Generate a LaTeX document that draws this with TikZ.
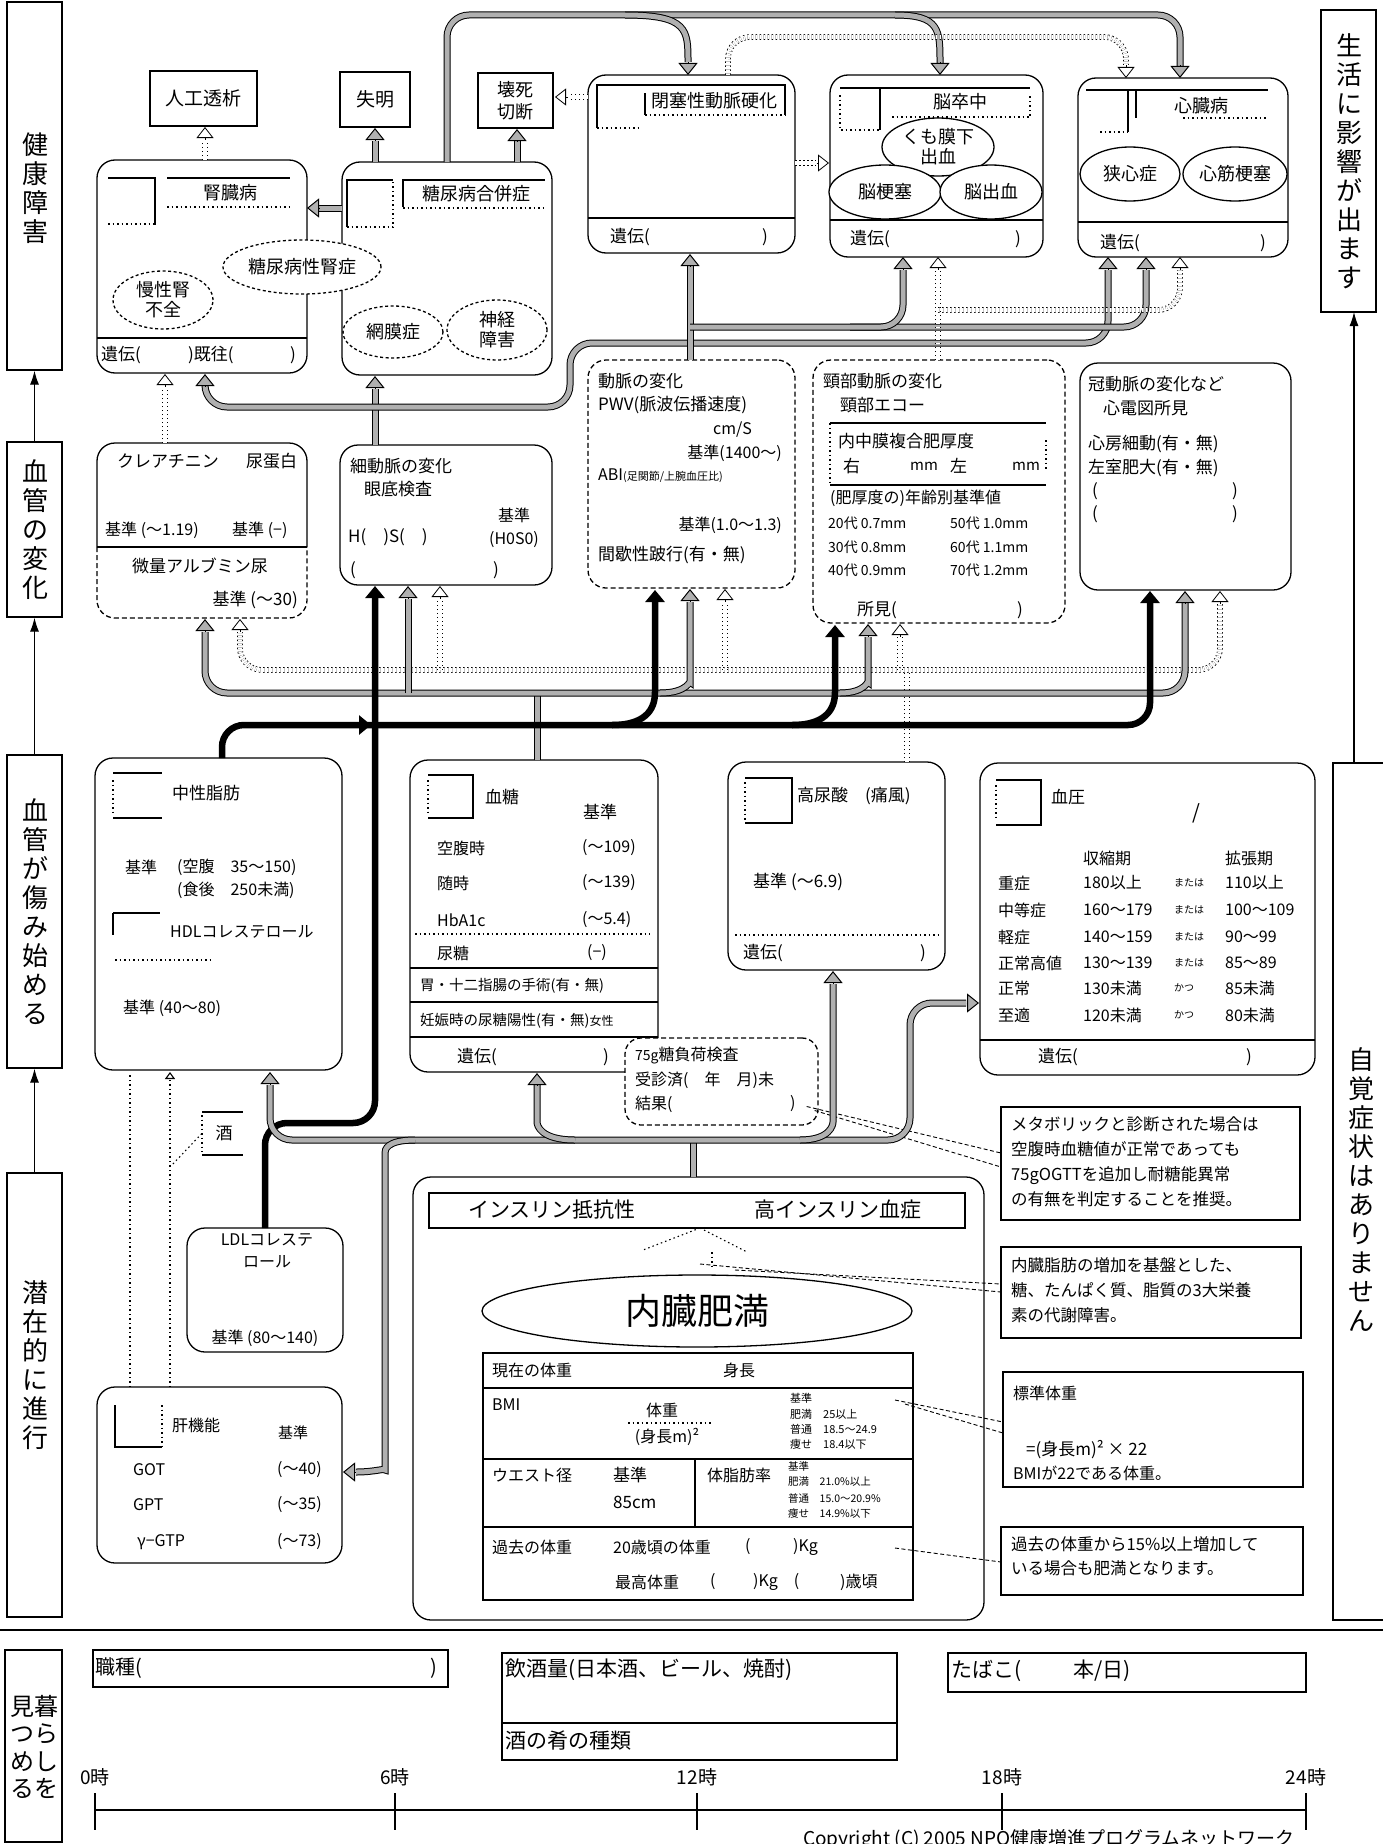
\documentclass[tikz,border=0pt]{standalone}
\usepackage{fontspec}
\setmainfont{Noto Sans CJK JP}
\usetikzlibrary{arrows.meta,shapes.geometric}
\newcommand\myfs[1]{\fontsize{#1}{#1}\selectfont}
\newcommand\boxat[6]{\node[#1, minimum width={#5-#3}, minimum height={#6-#4}] (#2) at ({(#3+#5)/2},{(#4+#6)/2}) {};}
\newcommand\tipU[3]{\draw[#1] (#2,#3+12.5) -- (#2,#3);}
\newcommand\tipD[3]{\draw[#1] (#2,#3-12.5) -- (#2,#3);}
\newcommand\tipL[3]{\draw[#1] (#2+12.5,#3) -- (#2,#3);}
\newcommand\tipR[3]{\draw[#1] (#2-12.5,#3) -- (#2,#3);}
\begin{document}
\begin{tikzpicture}[x=1pt,y=-1pt,
  box/.style={draw,line width=1.3pt,rounded corners=18pt,inner sep=0pt},
  dbox/.style={box,dash pattern=on 5pt off 3pt},
  rbox/.style={draw,line width=1.3pt,inner sep=0pt},
  tbox/.style={draw,line width=2.2pt,inner sep=0pt},
  nbox/.style={draw,line width=1.1pt,inner sep=0pt},
  tx/.style={inner sep=0pt,anchor=west,font=\myfs{17}},
  te/.style={inner sep=0pt,anchor=east,font=\myfs{17}},
  tc/.style={inner sep=0pt,font=\myfs{17}},
  vt/.style={inner sep=0pt,align=center,font=\fontsize{26}{29}\selectfont},
  ell/.style={ellipse,draw,line width=1.3pt,inner sep=0pt,fill=white,align=center,font=\fontsize{18}{20}\selectfont},
  dell/.style={ell,dash pattern=on 3pt off 2.5pt},
  thinl/.style={line width=1.1pt},
  dotl/.style={line width=1.1pt,dash pattern=on 1.5pt off 3pt},
  nline/.style={line width=0.9pt,dash pattern=on 4pt off 2.5pt},
  blk/.style={line width=6.5pt,rounded corners=22pt},
  hat/.style={draw=black,line width=1pt,double=gray!62,double distance=5pt,rounded corners=22pt},
  dtb/.style={draw=black,line width=0.8pt,double=white,double distance=4pt,dash pattern=on 1.5pt off 2.5pt,rounded corners=22pt},
  tipB/.style={line width=0.9pt,-{Triangle[width=19pt,length=12pt]}},
  tipH/.style={line width=1pt,-{Triangle[width=19pt,length=12pt,fill=gray!62]}},
  tipD/.style={line width=0.8pt,-{Triangle[width=17pt,length=11pt,open]}},
  BT/.style={-{Triangle[width=19pt,length=12pt]}},
]
\useasboundingbox (0,0) rectangle (1383,1844);
\fill[white] (0,0) rectangle (1383,1844);

% ---------- left / right stage labels ----------
\boxat{rbox}{s1}{7}{2}{62}{370}
\node[vt] (s1t) at (35,188) {健\\康\\障\\害};
\boxat{rbox}{s2}{7}{442}{62}{617}
\node[vt] (s2t) at (35,530) {血\\管\\の\\変\\化};
\boxat{rbox}{s3}{7}{755}{62}{1068}
\node[vt] (s3t) at (35,912) {血\\管\\が\\傷\\み\\始\\め\\る};
\boxat{rbox}{s4}{7}{1173}{62}{1617}
\node[vt] (s4t) at (35,1365) {潜\\在\\的\\に\\進\\行};
\boxat{rbox}{s5}{5}{1650}{62}{1842}
\node[inner sep=0pt,align=center,font=\fontsize{24}{27.5}\selectfont] (s5t) at (34,1747) {見暮\\つら\\めし\\るを};
\draw[thinl,-{Latex[length=14pt,width=9pt]}] (s2.north) -- (s1.south);
\draw[thinl,-{Latex[length=14pt,width=9pt]}] (s3.north) -- (s2.south);
\draw[thinl,-{Latex[length=14pt,width=9pt]}] (s4.north) -- (s3.south);
\boxat{rbox}{r1}{1321}{10}{1376}{312}
\node[vt] (r1t) at (1349,161) {生\\活\\に\\影\\響\\が\\出\\ま\\す};
\boxat{rbox}{r2}{1333}{763}{1400}{1620}
\node[vt] (r2t) at (1361,1190) {自\\覚\\症\\状\\は\\あ\\り\\ま\\せ\\ん};
\coordinate (r2top) at (1354,763);
\coordinate (r1bot) at (1354,312);
\draw[thinl,-{Latex[length=14pt,width=9pt]}] (r2top) -- (r1bot);
\draw[line width=1.3pt] (0,1630) -- (1383,1630);

% ---------- top outcome boxes ----------
\boxat{rbox}{jinko}{150}{71}{257}{126}
\node[tc,font=\myfs{19}] (jinkot) at (jinko) {人工透析};
\boxat{rbox}{shitsu}{340}{72}{410}{127}
\node[tc,font=\myfs{19}] (shitsut) at (shitsu) {失明};
\boxat{tbox}{eshi}{478}{73}{553}{128}
\node[tc,align=center,font=\fontsize{18}{22}\selectfont] (eshit) at (eshi) {壊死\\切断};

% ---------- disease boxes ----------
\boxat{box}{jinzo}{97}{160}{307}{373}
\draw[thinl] (97,338) -- (307,338);
\draw[thinl] (108,178) -- (155,178) -- (155,225);
\draw[dotl] (108,224) -- (155,224);
\draw[thinl] (167,178) -- (290,178);
\draw[dotl] (167,207) -- (290,207);
\node[tc,font=\myfs{18}] (jzt) at (230,193) {腎臓病};
\node[tx] (jz1) at (101,355) {遺伝(};
\node[tx] (jz2) at (188,355) {)既往(};
\node[tx] (jz3) at (290,355) {)};

\boxat{box}{togai}{342}{162}{552}{375}
\draw[thinl] (347,227) -- (347,180) -- (393,180);
\draw[dotl] (347,227) -- (393,227) -- (393,180);
\draw[thinl] (403,207) -- (403,180) -- (545,180);
\draw[dotl] (403,208) -- (545,208);
\node[tc,font=\myfs{18}] (tgt) at (476,194) {糖尿病合併症};
\node[dell,minimum width=100pt,minimum height=52pt] (moumaku) at (393,332) {網膜症};
\node[dell,minimum width=100pt,minimum height=60pt] (shinkei) at (497,330) {神経\\障害};
\node[dell,minimum width=158pt,minimum height=54pt] (tjinsho) at (302,267) {糖尿病性腎症};
\node[dell,minimum width=100pt,minimum height=58pt] (manjin) at (163,300) {慢性腎\\不全};

\boxat{box}{heisoku}{588}{75}{795}{253}
\draw[thinl] (588,218) -- (795,218);
\draw[thinl] (597,128) -- (597,85) -- (785,85) -- (785,115);
\draw[dotl] (597,128) -- (640,128);
\draw[thinl] (645,93) -- (645,115);
\draw[dotl] (645,115) -- (785,115);
\node[tc,font=\myfs{18}] (hst) at (714,101) {閉塞性動脈硬化};
\node[tx] (hs1) at (610,237) {遺伝(};
\node[tx] (hs2) at (762,237) {)};

\boxat{box}{nosot}{830}{75}{1043}{257}
\draw[thinl] (830,220) -- (1043,220);
\draw[thinl] (840,88) -- (1030,88);
\draw[thinl] (880,88) -- (880,130);
\draw[dotl] (840,95) -- (840,130) -- (880,130);
\draw[dotl] (892,117) -- (1030,117) -- (1030,95);
\node[tc,font=\myfs{18}] (nst) at (960,102) {脳卒中};
\node[ell,minimum width=112pt,minimum height=58pt] (kumo) at (938,147) {くも膜下\\出血};
\node[ell,minimum width=112pt,minimum height=54pt] (nokou) at (885,192) {脳梗塞};
\node[ell,minimum width=102pt,minimum height=54pt] (noshu) at (991,192) {脳出血};
\node[tx] (ns1) at (850,239) {遺伝(};
\node[tx] (ns2) at (1015,239) {)};

\boxat{box}{shinzo}{1078}{78}{1288}{257}
\draw[thinl] (1078,222) -- (1288,222);
\draw[thinl] (1086,90) -- (1268,90);
\draw[thinl] (1128,90) -- (1128,132);
\draw[thinl] (1136,90) -- (1136,118);
\draw[dotl] (1100,132) -- (1128,132);
\draw[dotl] (1183,118) -- (1268,118);
\node[tc,font=\myfs{18}] (szt) at (1201,106) {心臓病};
\node[ell,minimum width=100pt,minimum height=54pt] (kyoshin) at (1130,174) {狭心症};
\node[ell,minimum width=104pt,minimum height=54pt] (shinkin) at (1235,174) {心筋梗塞};
\node[tx] (sz1) at (1100,243) {遺伝(};
\node[tx] (sz2) at (1260,243) {)};

% ---------- vessel change boxes ----------
\node[inner sep=0pt,minimum width=210pt,minimum height=175pt] (kurea) at (202,530.5) {};
\draw[line width=1.3pt,rounded corners=18pt] (97,547) -- (97,443) -- (307,443) -- (307,547);
\draw[line width=1.3pt,rounded corners=18pt,dash pattern=on 5pt off 3pt] (97,547) -- (97,618) -- (307,618) -- (307,547);
\draw[thinl] (97,547) -- (307,547);
\node[tx] (kr1) at (117,461) {クレアチニン};
\node[tx] (kr2) at (246,461) {尿蛋白};
\node[tx,font=\myfs{16}] (kr3) at (105,530) {基準 (〜1.19)};
\node[tx,font=\myfs{16}] (kr4) at (232,530) {基準 (−)};
\node[tc] (kr5) at (200,566) {微量アルブミン尿};
\node[te] (kr6) at (298,600) {基準 (〜30)};

\boxat{box}{saido}{340}{445}{552}{585}
\node[tx] (sd1) at (350,466) {細動脈の変化};
\node[tx] (sd2) at (364,489) {眼底検査};
\node[tx] (sd3) at (348,537) {H(　)S(　)};
\node[tx] (sd4) at (350,570) {(};
\node[tx] (sd5) at (493,570) {)};
\node[tc,font=\myfs{16}] (sd6) at (514,515) {基準};
\node[tc,font=\myfs{16}] (sd7) at (514,540) {(H0S0)};

\boxat{dbox}{domyaku}{588}{360}{795}{588}
\node[tx] (dm1) at (598,381) {動脈の変化};
\node[tx] (dm2) at (598,405) {PWV(脈波伝播速度)};
\node[tx,font=\myfs{16}] (dm3) at (713,430) {cm/S};
\node[te,font=\myfs{16}] (dm4) at (782,453) {基準(1400〜)};
\node[tx,font=\myfs{16}] (dm5) at (598,476) {ABI{\myfs{11}(足関節/上腕血圧比)}};
\node[te,font=\myfs{16}] (dm6) at (782,525) {基準(1.0〜1.3)};
\node[tx] (dm7) at (598,555) {間歇性跛行(有・無)};

\boxat{dbox}{keibu}{813}{360}{1065}{623}
\node[tx] (kb1) at (823,381) {頸部動脈の変化};
\node[tx] (kb2) at (840,405) {頸部エコー};
\draw[thinl] (830,423) -- (1046,423);
\draw[thinl] (830,485) -- (1046,485);
\draw[dotl] (830,423) -- (830,485);
\draw[dotl] (1046,440) -- (1046,470);
\node[tx] (kb3) at (838,441) {内中膜複合肥厚度};
\node[tx] (kb4) at (843,466) {右};
\node[tx,font=\myfs{15}] (kb5) at (910,466) {mm};
\node[tx] (kb6) at (950,466) {左};
\node[tx,font=\myfs{15}] (kb7) at (1012,466) {mm};
\node[tx,font=\myfs{16}] (kb8) at (830,498) {(肥厚度の)年齢別基準値};
\node[tx,font=\myfs{14}] (kb9) at (828,523) {20代 0.7mm};
\node[tx,font=\myfs{14}] (kb10) at (950,523) {50代 1.0mm};
\node[tx,font=\myfs{14}] (kb11) at (828,547) {30代 0.8mm};
\node[tx,font=\myfs{14}] (kb12) at (950,547) {60代 1.1mm};
\node[tx,font=\myfs{14}] (kb13) at (828,570) {40代 0.9mm};
\node[tx,font=\myfs{14}] (kb14) at (950,570) {70代 1.2mm};
\node[tx] (kb15) at (857,610) {所見(};
\node[tx] (kb16) at (1017,610) {)};

\boxat{box}{kando}{1080}{363}{1291}{590}
\node[tx] (kd1) at (1088,384) {冠動脈の変化など};
\node[tx] (kd2) at (1103,408) {心電図所見};
\node[tx] (kd3) at (1088,444) {心房細動(有・無)};
\node[tx] (kd4) at (1088,468) {左室肥大(有・無)};
\node[tx] (kd5) at (1092,491) {(};
\node[tx] (kd6) at (1232,491) {)};
\node[tx] (kd7) at (1092,514) {(};
\node[tx] (kd8) at (1232,514) {)};

% ---------- risk boxes ----------
\boxat{box}{chusei}{95}{758}{342}{1070}
\draw[thinl] (113,773) -- (162,773);
\draw[dotl] (113,780) -- (113,812);
\draw[thinl] (113,818) -- (162,818);
\node[tx] (cs1) at (172,793) {中性脂肪};
\node[tx,font=\myfs{16}] (cs2) at (125,867) {基準};
\node[tx,font=\myfs{16}] (cs3) at (177,867) {(空腹　35〜150)};
\node[tx,font=\myfs{16}] (cs4) at (177,890) {(食後　250未満)};
\draw[thinl] (113,913) -- (160,913);
\draw[thinl] (113,913) -- (113,935);
\node[tx,font=\myfs{16}] (cs5) at (170,932) {HDLコレステロール};
\draw[dotl] (115,960) -- (210,960);
\node[tx,font=\myfs{16}] (cs6) at (123,1008) {基準 (40〜80)};

\boxat{box}{kettou}{410}{760}{658}{1072}
\draw[thinl] (428,775) -- (473,775) -- (473,818) -- (428,818);
\draw[dotl] (428,780) -- (428,815);
\node[tx] (kt1) at (485,797) {血糖};
\node[tx] (kt2) at (583,812) {基準};
\node[tx,font=\myfs{16}] (kt3) at (437,848) {空腹時};
\node[tx,font=\myfs{16}] (kt4) at (582,848) {(〜109)};
\node[tx,font=\myfs{16}] (kt5) at (437,883) {随時};
\node[tx,font=\myfs{16}] (kt6) at (582,883) {(〜139)};
\node[tx,font=\myfs{16}] (kt7) at (437,920) {HbA1c};
\node[tx,font=\myfs{16}] (kt8) at (582,920) {(〜5.4)};
\draw[dotl] (415,934) -- (650,934);
\node[tx,font=\myfs{16}] (kt9) at (437,953) {尿糖};
\node[tx,font=\myfs{16}] (kt10) at (587,953) {(−)};
\draw[thinl] (410,968) -- (658,968);
\node[tx,font=\myfs{14.5}] (kt11) at (420,986) {胃・十二指腸の手術(有・無)};
\draw[thinl] (410,1002) -- (658,1002);
\node[tx,font=\myfs{14.5}] (kt12) at (420,1021) {妊娠時の尿糖陽性(有・無){\myfs{12}女性}};
\draw[thinl] (410,1037) -- (658,1037);
\node[tx] (kt13) at (457,1057) {遺伝(};
\node[tx] (kt14) at (603,1057) {)};

\node[draw,line width=1.3pt,rounded corners=16pt,dash pattern=on 5pt off 3pt,fill=white,minimum width=193pt,minimum height=87pt,inner sep=0pt] (ogtt) at (721.5,1081.5) {};
\node[tx,font=\myfs{16}] (og1) at (635,1056) {{\myfs{14}75g}糖負荷検査};
\node[tx,font=\myfs{16}] (og2) at (635,1080) {受診済(　年　月)未};
\node[tx,font=\myfs{16}] (og3) at (635,1104) {結果(};
\node[tx,font=\myfs{16}] (og4) at (790,1104) {)};

\boxat{box}{konyo}{728}{762}{945}{970}
\draw[thinl] (745,778) -- (792,778) -- (792,823) -- (745,823);
\draw[dotl] (745,782) -- (745,820);
\node[tx] (kn1) at (797,796) {高尿酸　(痛風)};
\node[tx] (kn2) at (753,882) {基準 (〜6.9)};
\draw[dotl] (735,935) -- (940,935);
\node[tx] (kn3) at (743,953) {遺伝(};
\node[tx] (kn4) at (920,953) {)};

\boxat{box}{ketsu}{980}{763}{1315}{1075}
\draw[thinl] (996,780) -- (1041,780) -- (1041,825) -- (996,825);
\draw[dotl] (996,785) -- (996,820);
\node[tx] (ka1) at (1051,797) {血圧};
\node[tx,font=\myfs{20}] (ka2) at (1192,813) {/};
\node[tx,font=\myfs{16}] (ka3) at (1083,858) {収縮期};
\node[tx,font=\myfs{16}] (ka4) at (1225,858) {拡張期};
\foreach \lab/\sy/\cn/\dy/\yy [count=\i] in {重症/180以上/または/110以上/883, 中等症/160〜179/または/100〜109/910, 軽症/140〜159/または/90〜99/937, 正常高値/130〜139/または/85〜89/963, 正常/130未満/かつ/85未満/988, 至適/120未満/かつ/80未満/1015}{
  \node[tx,font=\myfs{16}] (bpa\i) at (998,\yy) {\lab};
  \node[tx,font=\myfs{16}] (bpb\i) at (1083,\yy) {\sy};
  \node[tx,font=\myfs{10}] (bpc\i) at (1174,\yy) {\cn};
  \node[tx,font=\myfs{16}] (bpd\i) at (1225,\yy) {\dy};
}
\draw[thinl] (980,1040) -- (1315,1040);
\node[tx] (ka5) at (1038,1057) {遺伝(};
\node[tx] (ka6) at (1246,1057) {)};

% ---------- sake, LDL, liver ----------
\node[inner sep=0pt,minimum width=41pt,minimum height=43pt] (sake) at (222.5,1133.5) {};
\draw[thinl] (202,1112) -- (243,1112);
\draw[thinl] (202,1155) -- (243,1155);
\draw[dotl] (202,1115) -- (202,1152);
\node[tc] (saket) at (224,1133) {酒};
\boxat{box}{ldl}{187}{1228}{343}{1352}
\node[tc,align=center,font=\fontsize{16}{22}\selectfont] (ld1) at (267,1251) {LDLコレステ\\ロール};
\node[tc,font=\myfs{16}] (ld2) at (265,1338) {基準 (80〜140)};
\boxat{box}{kanki}{97}{1387}{342}{1563}
\draw[thinl] (115,1405) -- (115,1447) -- (162,1447);
\draw[dotl] (162,1405) -- (162,1447);
\node[tx,font=\myfs{16}] (kk1) at (172,1425) {肝機能};
\node[tx,font=\myfs{15}] (kk2) at (278,1433) {基準};
\node[tx,font=\myfs{16}] (kk3) at (133,1470) {GOT};
\node[tx,font=\myfs{16}] (kk4) at (277,1470) {(〜40)};
\node[tx,font=\myfs{16}] (kk5) at (133,1505) {GPT};
\node[tx,font=\myfs{16}] (kk6) at (277,1505) {(〜35)};
\node[tx,font=\myfs{16}] (kk7) at (137,1542) {γ−GTP};
\node[tx,font=\myfs{16}] (kk8) at (277,1542) {(〜73)};

% ---------- visceral obesity block ----------
\boxat{box}{big}{413}{1177}{984}{1620}
\boxat{rbox}{insul}{429}{1193}{965}{1228}
\node[tc,font=\myfs{21}] (in1) at (552,1210) {インスリン抵抗性};
\node[tc,font=\myfs{21}] (in2) at (838,1210) {高インスリン血症};
\coordinate (tri) at (700,1228);
\draw[dotl] (tri) -- (643,1250);
\draw[dotl] (tri) -- (747,1252);
\draw[dotl] (712,1252) -- (712,1266);
\node[ellipse,draw,line width=1.3pt,minimum width=430pt,minimum height=72pt,inner sep=0pt,font=\myfs{36}] (naizo) at (697,1311) {内臓肥満};
\boxat{rbox}{tbl}{483}{1353}{913}{1600}
\draw[thinl] (483,1388) -- (913,1388);
\draw[thinl] (483,1459) -- (913,1459);
\draw[thinl] (483,1527) -- (913,1527);
\draw[thinl] (695,1459) -- (695,1527);
\node[tx,font=\myfs{16}] (tb1) at (492,1370) {現在の体重};
\node[tx,font=\myfs{16}] (tb2) at (723,1370) {身長};
\node[tx,font=\myfs{16}] (tb3) at (492,1405) {BMI};
\node[tc,font=\myfs{16}] (tb4) at (662,1410) {体重};
\draw[dotl] (628,1423) -- (712,1423);
\node[tc,font=\myfs{16}] (tb5) at (667,1437) {(身長m)²};
\node[tx,font=\myfs{11}] (tb6) at (790,1398) {基準};
\node[tx,font=\myfs{11}] (tb7) at (790,1414) {肥満　25以上};
\node[tx,font=\myfs{11}] (tb8) at (790,1429) {普通　18.5〜24.9};
\node[tx,font=\myfs{11}] (tb9) at (790,1444) {痩せ　18.4以下};
\node[tx,font=\myfs{16}] (tb10) at (492,1475) {ウエスト径};
\node[tx] (tb11) at (613,1475) {基準};
\node[tx] (tb12) at (613,1502) {85cm};
\node[tx,font=\myfs{16}] (tb13) at (707,1475) {体脂肪率};
\node[tx,font=\myfs{10.5}] (tb14) at (788,1466) {基準};
\node[tx,font=\myfs{10.5}] (tb15) at (788,1482) {肥満　21.0\%以上};
\node[tx,font=\myfs{10.5}] (tb16) at (788,1498) {普通　15.0〜20.9\%};
\node[tx,font=\myfs{10.5}] (tb17) at (788,1514) {痩せ　14.9\%以下};
\node[tx,font=\myfs{16}] (tb18) at (492,1547) {過去の体重};
\node[tx,font=\myfs{16}] (tb19) at (613,1547) {20歳頃の体重};
\node[tx,font=\myfs{16}] (tb20) at (745,1547) {(};
\node[tx,font=\myfs{16}] (tb21) at (793,1547) {)Kg};
\node[tx,font=\myfs{16}] (tb22) at (615,1582) {最高体重};
\node[tx,font=\myfs{16}] (tb23) at (710,1582) {(};
\node[tx,font=\myfs{16}] (tb24) at (753,1582) {)Kg　(};
\node[tx,font=\myfs{16}] (tb25) at (840,1582) {)歳頃};

% ---------- notes ----------
\boxat{nbox}{n1}{1001}{1107}{1300}{1220}
\node[tx,align=left,anchor=north west,font=\fontsize{16.5}{25}\selectfont] (n1t) at (1011,1116) {メタボリックと診断された場合は\\空腹時血糖値が正常であっても\\75gOGTTを追加し耐糖能異常\\の有無を判定することを推奨。};
\boxat{nbox}{n2}{1001}{1247}{1301}{1338}
\node[tx,align=left,anchor=north west,font=\fontsize{16.5}{25}\selectfont] (n2t) at (1011,1257) {内臓脂肪の増加を基盤とした、\\糖、たんぱく質、脂質の3大栄養\\素の代謝障害。};
\boxat{nbox}{n3}{1003}{1372}{1303}{1487}
\node[tx,font=\myfs{16}] (n3a) at (1013,1393) {標準体重};
\node[tx,font=\myfs{17}] (n3b) at (1026,1450) {=(身長m)²  × 22};
\node[tx,font=\myfs{16}] (n3c) at (1013,1473) {BMIが22である体重。};
\boxat{nbox}{n4}{1001}{1527}{1303}{1595}
\node[tx,align=left,anchor=north west,font=\fontsize{16.5}{24}\selectfont] (n4t) at (1011,1536) {過去の体重から15\%以上増加して\\いる場合も肥満となります。};
\draw[nline] (ogtt.east) ++(-12,25) -- (1001,1153);
\draw[nline] (ogtt.east) ++(-4,29) -- (1001,1167);
\draw[nline] (700,1264) -- (1001,1292);
\draw[nline] (735,1270) -- (1001,1284);
\draw[nline] (895,1400) -- (1003,1422);
\draw[nline] (905,1404) -- (1003,1433);
\draw[nline] (895,1548) -- (1001,1562);

% ---------- bottom lifestyle ----------
\boxat{rbox}{shoku}{93}{1650}{448}{1687}
\node[tx,font=\myfs{20}] (sk1) at (95,1668) {職種(};
\node[tx,font=\myfs{20}] (sk2) at (430,1668) {)};
\boxat{rbox}{inshu}{502}{1653}{897}{1760}
\draw[line width=1.3pt] (502,1723) -- (897,1723);
\node[tx,font=\myfs{21}] (is1) at (505,1670) {飲酒量(日本酒、ビール、焼酎)};
\node[tx,font=\myfs{21}] (is2) at (505,1740) {酒の肴の種類};
\boxat{rbox}{tabako}{948}{1653}{1306}{1692}
\node[tx,font=\myfs{21}] (tk1) at (951,1671) {たばこ(};
\node[tx,font=\myfs{21}] (tk2) at (1073,1671) {本/日)};
\coordinate (t0) at (95,1810);
\coordinate (t24) at (1306,1810);
\draw[line width=1.3pt] (t0) -- (t24);
\foreach \xx/\lb in {95/0時,395/6時,697/12時,1002/18時,1306/24時}{
  \draw[line width=1.4pt] (\xx,1793) -- (\xx,1830);
  \node[tc,font=\myfs{19}] (tl\xx) at (\xx,1777) {\lb};
}
\node[inner sep=0pt,anchor=north west,font=\myfs{19}] (copy) at (803,1829) {Copyright (C) 2005 NPO健康増進プログラムネットワーク};

% ---------- flows: top ----------
\draw[hat] (447,162) -- (447,15) -- (1180,15) -- (1180,66);
\tipD{tipH}{1180}{78}
\draw[hat] (625,15) .. controls (688,15) and (688,30) .. (688,62);
\tipD{tipH}{688}{75}
\draw[hat] (895,15) .. controls (940,15) and (940,30) .. (940,63);
\tipD{tipH}{940}{75}
\draw[dtb] (728,75) -- (728,37) -- (1126,37) -- (1126,65);
\tipD{tipD}{1126}{78}
\draw[hat] (342,208) -- (319,208);
\tipL{tipH}{307}{208}
\draw[dtb] (205,160) -- (205,140);
\tipU{tipD}{205}{127}
\draw[hat] (375,162) -- (375,141);
\tipU{tipH}{375}{128}
\draw[hat] (517,162) -- (517,141);
\tipU{tipH}{517}{129}
\draw[dtb] (588,97) -- (568,97);
\tipL{tipD}{555}{97}
\draw[dtb] (795,163) -- (816,163);
\tipR{tipD}{829}{163}

% ---------- flows: vessel change -> disease ----------
\draw[dtb] (165,443) -- (165,387);
\tipU{tipD}{165}{374}
\draw[hat] (375,445) -- (375,389);
\tipU{tipH}{375}{376}
\draw[hat] (375,407) -- (205,407) -- (205,386);
\tipU{tipH}{205}{374}
\draw[hat] (375,407) -- (570,407) -- (570,343) -- (1108,343) -- (1108,270);
\tipU{tipH}{1108}{257}
\draw[hat] (690,360) -- (690,266);
\tipU{tipH}{690}{254}
\draw[hat] (690,327) -- (1146,327) -- (1146,270);
\tipU{tipH}{1146}{257}
\draw[hat] (850,327) -- (903,327) -- (903,270);
\tipU{tipH}{903}{257}
\draw[dtb] (938,360) -- (938,270);
\tipU{tipD}{938}{257}
\draw[dtb] (938,310) -- (1180,310) -- (1180,270);
\tipU{tipD}{1180}{257}

% ---------- flows: risk -> vessel change ----------
\draw[dtb] (907,762) -- (907,670);
\draw[dtb] (1220,604) -- (1220,670) -- (240,670) -- (240,632);
\tipU{tipD}{240}{619}
\tipU{tipD}{1220}{591}
\draw[dtb] (440,670) -- (440,599);
\tipU{tipD}{440}{586}
\draw[dtb] (725,670) -- (725,602);
\tipU{tipD}{725}{589}
\draw[dtb] (900,670) -- (900,637);
\tipU{tipD}{900}{624}

\draw[hat] (537,760) -- (537,693);
\draw[hat] (1185,603) -- (1185,693) -- (205,693) -- (205,632);
\tipU{tipH}{205}{619}
\tipU{tipH}{1185}{591}
\draw[hat] (408,693) -- (408,599);
\tipU{tipH}{408}{586}
\draw[hat] (660,693) .. controls (688,693) and (690,680) .. (690,660) -- (690,602);
\tipU{tipH}{690}{589}
\draw[hat] (840,693) .. controls (866,693) and (868,680) .. (868,660) -- (868,637);
\tipU{tipH}{868}{624}

\draw[blk,BT] (222,758) -- (222,725) -- (1150,725) -- (1150,591);
\draw[blk,BT] (612,725) .. controls (650,725) and (655,705) .. (655,670) -- (655,590);
\draw[blk,BT] (792,725) .. controls (830,725) and (835,705) .. (835,670) -- (835,625);
\draw[blk,BT] (265,1228) -- (265,1123) -- (375,1123) -- (375,586);
\draw[line width=6.5pt,BT] (330,725) -- (371,725);

% ---------- flows: visceral obesity -> risks ----------
\draw[hat] (693,1177) -- (693,1140);
\draw[hat] (270,1085) -- (270,1140) -- (910,1140) -- (910,1003) -- (966,1003);
\tipU{tipH}{270}{1072}
\tipR{tipH}{979}{1003}
\draw[hat] (575,1140) .. controls (540,1140) and (537,1125) .. (537,1100) -- (537,1086);
\tipU{tipH}{537}{1073}
\draw[hat] (800,1140) .. controls (830,1140) and (833,1125) .. (833,1100) -- (833,984);
\tipU{tipH}{833}{971}
\draw[hat] (415,1140) .. controls (386,1140) and (385,1150) .. (385,1175) -- (385,1448) .. controls (385,1468) and (375,1472) .. (356,1472);
\tipL{tipH}{343}{1472}
\draw[dotl] (130,1387) -- (130,1072);
\draw[dotl,-{Triangle[open,width=10pt,length=7pt]}] (170,1387) -- (170,1072);
\draw[dotl] (sake.west) -- (171,1166);
\end{tikzpicture}
\end{document}
